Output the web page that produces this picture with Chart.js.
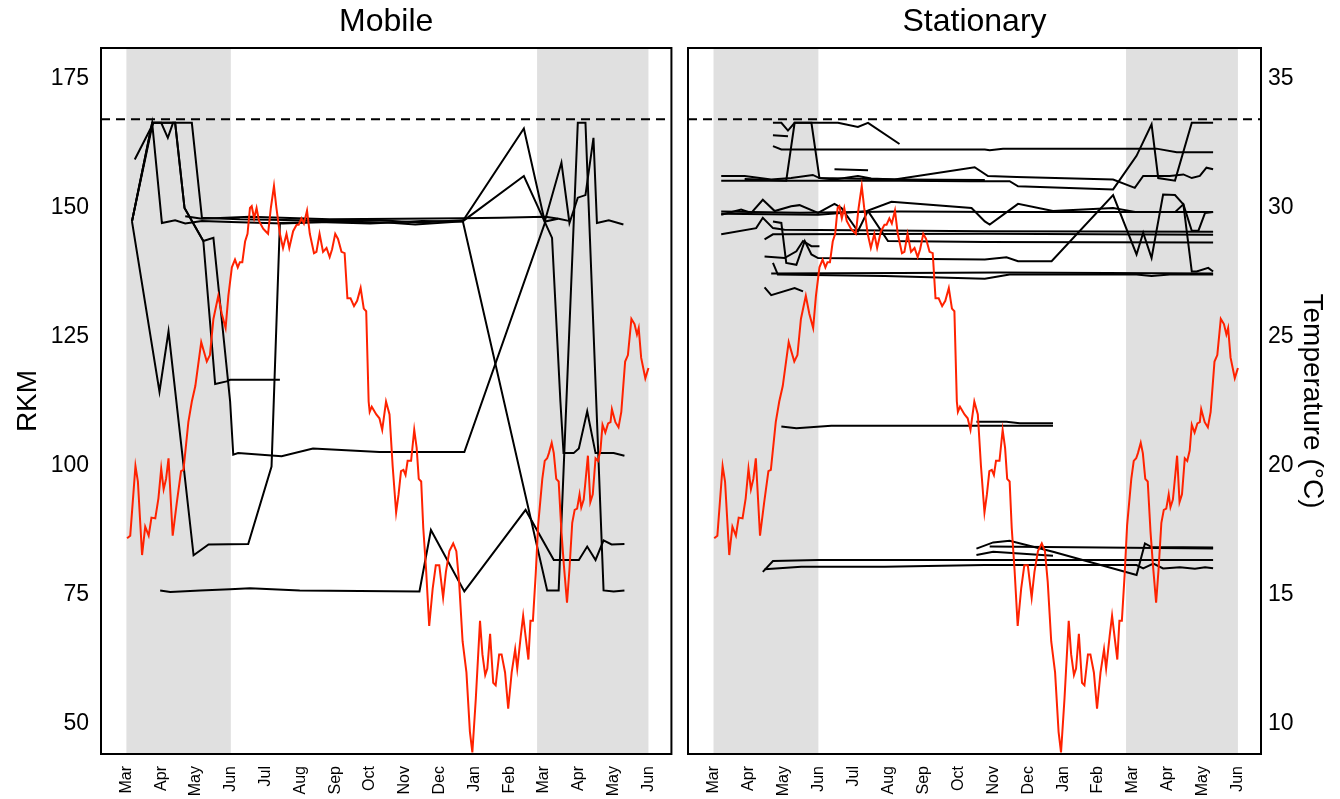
<!DOCTYPE html>
<html>
<head>
<meta charset="utf-8">
<script src="https://cdn.jsdelivr.net/npm/chart.js@4.4.1/dist/chart.umd.min.js"></script>
<style>
  html, body { margin: 0; padding: 0; background: #fff; }
  #wrap { position: relative; width: 1340px; height: 799px; }
  #cMobile { position: absolute; left: 0; top: 0; }
  #cStat { position: absolute; left: 680px; top: 0; }
</style>
</head>
<body>
<div id="wrap">
  <canvas id="cMobile" width="680" height="799"></canvas>
  <canvas id="cStat" width="660" height="799"></canvas>
</div>
<script>
// Movimentos (RKM) e temperatura — Mobile vs Stationary
// x = meses desde 1 de março (0 = Mar, 15 = Jun do ano seguinte)

const monthLabels = ['Mar','Apr','May','Jun','Jul','Aug','Sep','Oct','Nov','Dec','Jan','Feb','Mar','Apr','May','Jun'];
const monthPos = [0,1,2,3,4,5,6,7,8,9,10,11,12,13,14,15];
const rkmTicks = [50,75,100,125,150,175];
const tempTicks = [10,15,20,25,30,35];
const shadeStart = [0, 11.8];
const shadeEnd = [3, 15];
const damRkm = 167.2;

// Temperatura da água (°C)
const tempMonth = [0.02,0.11,0.26,0.33,0.45,0.54,0.64,0.72,0.83,0.92,
  1.00,1.07,1.14,1.21,1.33,1.45,1.57,1.64,1.78,1.88,
  1.98,2.15,2.31,2.40,2.50,2.64,2.74,2.85,2.93,3.03,
  3.12,3.20,3.26,3.33,3.41,3.48,3.55,3.60,3.67,3.74,
  3.81,3.93,4.00,4.07,4.15,4.24,4.31,4.41,4.50,4.60,
  4.68,4.79,4.89,4.95,5.03,5.10,5.19,5.27,5.39,5.46,
  5.55,5.65,5.75,5.84,5.91,6.00,6.08,6.18,6.27,6.35,
  6.44,6.54,6.63,6.73,6.82,6.89,6.96,6.99,7.05,7.18,
  7.27,7.35,7.46,7.56,7.65,7.75,7.82,7.89,7.96,8.02,
  8.08,8.18,8.27,8.34,8.40,8.47,8.53,8.61,8.70,8.80,
  8.89,8.99,9.10,9.18,9.28,9.39,9.48,9.56,9.66,9.77,
  9.87,9.94,10.04,10.16,10.23,10.31,10.37,10.45,10.54,10.61,
  10.71,10.78,10.88,10.97,11.07,11.17,11.23,11.33,11.40,11.47,
  11.55,11.61,11.68,11.76,11.83,11.95,12.02,12.09,12.14,12.22,
  12.28,12.35,12.42,12.50,12.57,12.66,12.73,12.81,12.88,12.95,
  13.02,13.07,13.14,13.19,13.26,13.33,13.40,13.48,13.55,13.62,
  13.68,13.76,13.84,13.91,13.95,14.05,14.14,14.22,14.33,14.41,
  14.51,14.60,14.67,14.72,14.79,14.91,15.00];
const tempC = [17.2,17.3,20.0,19.4,16.55,17.65,17.3,18.0,17.97,18.75,
  19.9,19.1,19.5,20.3,17.3,18.6,19.8,19.85,21.7,22.5,
  23.1,24.8,24.05,24.3,25.7,26.6,25.9,25.35,26.6,27.7,
  28.0,27.7,27.9,27.9,28.7,29.0,30.0,30.07,29.6,30.0,
  29.5,29.2,29.1,29.0,30.0,30.85,30.0,29.0,28.45,29.0,
  28.45,29.1,29.35,29.35,29.6,29.4,29.9,29.0,28.25,28.3,
  29.0,28.3,28.45,28.1,28.4,29.0,28.8,28.3,28.25,26.5,
  26.5,26.2,26.4,26.9,26.1,26.0,22.5,22.1,22.3,22.0,
  21.85,21.4,22.5,22.0,20.0,18.2,18.9,19.8,19.85,19.65,
  20.2,20.2,21.4,20.7,19.5,19.4,17.6,16.0,13.8,15.25,
  16.15,16.15,14.9,15.9,16.7,17.0,16.7,15.5,13.2,12.0,
  9.7,8.9,11.0,14.0,12.7,11.9,12.15,13.5,11.6,11.5,
  12.7,12.7,12.0,10.6,12.0,12.9,12.15,13.4,14.2,13.4,
  12.5,14.0,14.0,15.8,17.7,19.5,20.2,20.3,20.5,20.9,
  20.5,19.5,19.4,17.45,16.15,14.7,16.0,17.8,18.3,18.35,
  18.9,18.4,18.7,19.4,20.4,18.6,18.9,20.3,20.2,20.6,
  21.6,21.3,21.65,21.7,22.2,21.7,21.5,22.1,24.05,24.3,
  25.7,25.5,25.1,25.35,24.2,23.4,23.8];

// Peixes móveis: [mês, RKM]
const mob1 = [[0.24,159.4],[0.78,166.5],[1.88,166.5],[2.17,148.1],[3.26,147.8],[4.98,147.6],[7.27,147.6],[8.42,147.2],[9.66,147.6],[12.09,75.9],[12.42,75.9],[12.97,166.5],[13.19,166.5],[13.71,75.9],[14.0,75.7],[14.31,75.9]];
const mob2 = [[0.16,147.4],[0.74,166.5],[1.02,147.1],[1.40,147.6],[1.69,147.0],[2.17,147.5],[3.0,147.3],[4.5,147.0],[6.0,147.4],[7.5,147.2],[8.3,146.8],[9.66,147.4],[11.42,165.4],[12.02,147.4],[12.50,158.8],[12.73,147.1],[12.97,152.0],[13.19,152.5],[13.42,163.6],[13.52,147.1],[13.86,147.6],[14.28,146.8]];
const mob3 = [[0.16,147.4],[0.95,114.4],[1.21,126.1],[1.93,82.7],[2.36,84.8],[3.50,84.9],[4.17,99.9],[4.41,147.1],[5.5,147.3],[7.0,147.0],[8.5,147.5],[9.66,147.4],[11.42,156.2],[12.23,144.2],[12.47,112.5],[12.56,102.5],[12.85,102.5],[13.0,103.4],[13.24,110.6],[13.48,102.5],[14.0,102.5],[14.31,102.0]];
const mob4 = [[0.16,147.4],[0.74,166.5],[1.0,166.5],[1.19,163.6],[1.34,166.5],[1.40,166.5],[1.67,150.0],[2.21,143.6],[2.55,115.9],[2.88,116.4],[2.98,116.7],[4.41,116.7]];
const mob5 = [[0.16,147.4],[0.76,166.5],[1.40,166.5],[1.67,150.0],[2.21,143.6],[2.50,144.2],[2.98,112.5],[3.07,102.2],[3.21,102.5],[4.46,101.9],[5.36,103.4],[7.27,102.7],[9.71,102.7],[12.04,147.4],[12.4,147.9]];
const mob6 = [[0.97,75.9],[1.26,75.6],[2.12,75.9],[2.98,76.1],[3.55,76.3],[4.98,75.9],[8.42,75.7],[8.75,87.6],[9.71,75.7],[11.47,91.5],[12.28,81.8],[13.0,81.8],[13.24,84.4],[13.48,81.8],[13.71,85.6],[13.94,84.8],[14.31,84.9]];
const mob7 = [[1.69,148.4],[2.17,147.9],[3.55,148.3],[5.84,147.8],[7.84,147.9],[9.66,148.0],[10.71,148.1],[12.04,148.3],[12.42,147.9],[12.71,147.5]];

// Peixes estacionários: [mês, RKM]
const stA = [[1.70,166.5],[1.94,166.5],[2.13,165.0],[2.32,166.5],[2.80,166.5],[3.56,166.5],[4.13,165.7],[4.42,166.5],[5.32,162.4]];
const stB = [[1.70,164.1],[2.13,163.9]];
const stC = [[1.70,162.0],[1.94,161.35],[2.99,161.35],[7.76,161.35],[7.90,161.2],[8.28,161.5],[12.10,161.5],[12.67,161.5],[13.25,160.8],[14.29,160.8]];
const stD = [[3.46,157.5],[4.42,157.3]];
const stE = [[0.89,155.6],[2.08,155.3],[2.32,166.5],[2.80,166.5],[3.03,155.8],[5.32,155.5],[7.76,155.4]];
const stF = [[0.22,156.2],[0.89,156.2],[1.65,155.5],[2.22,155.8],[2.84,156.4],[3.03,155.8],[3.46,155.5],[4.13,156.2],[4.51,155.7],[5.18,155.5],[7.47,157.9],[7.85,156.2],[8.67,156.0],[11.43,155.5],[12.05,153.9],[12.29,156.2],[13.05,156.2],[13.44,156.5],[13.68,155.8],[13.91,156.2],[14.10,157.8],[14.29,157.5]];
const stG = [[0.22,155.3],[5.32,155.3],[7.33,155.2],[8.47,155.2],[8.71,154.2],[11.43,153.6],[12.10,160.1],[12.53,166.2],[12.72,155.8],[13.20,155.3],[13.68,166.5],[14.29,166.5]];
const stH = [[0.22,148.7],[0.79,149.7],[1.08,149.05],[1.41,151.6],[1.75,149.4],[2.22,150.35],[2.46,150.55],[2.99,149.05],[3.46,150.8],[3.66,150.0],[4.13,145.5],[4.42,149.5],[5.09,151.2],[7.38,150.0],[7.76,147.4],[7.90,146.8],[8.71,150.8],[9.71,149.4],[11.43,150.0],[12.10,149.2],[14.29,149.2]];
const stI = [[0.22,149.3],[2.46,149.1],[5.32,149.3],[8.19,149.2],[13.20,149.2],[13.44,150.7],[13.68,145.6],[13.87,145.6],[14.06,149.05],[14.29,149.2]];
const stJ = [[0.22,148.9],[2.99,148.7],[4.42,149.4],[4.99,143.6],[7.76,143.4],[14.29,143.3]];
const stK = [[0.22,144.9],[1.22,146.1],[1.41,148.1],[1.70,146.1],[2.03,145.8],[7.76,145.5],[14.29,145.4]];
const stL = [[1.46,143.9],[1.70,144.9],[7.76,145.0],[14.29,144.8]];
const stM = [[1.70,147.4],[1.94,147.1],[2.08,139.35],[2.37,139.0],[2.61,143.6],[2.80,141.0],[2.99,140.3],[7.76,140.0],[8.38,140.45],[8.71,139.7],[9.67,139.7],[11.43,152.5],[12.10,141.0],[12.29,145.2],[12.53,140.3],[12.86,152.6],[13.20,152.5],[13.44,150.7],[13.68,137.7],[13.82,137.7],[14.15,138.4],[14.29,137.7]];
const stN = [[1.46,140.6],[2.03,140.3],[2.37,141.6],[2.56,143.6],[2.80,142.6],[3.03,142.6]];
const stO = [[1.70,139.35],[1.84,137.1],[4.90,136.8],[7.76,136.3],[8.47,137.1],[12.10,137.1],[12.53,136.8],[13.05,137.1],[14.29,137.1]];
const stP = [[1.65,137.3],[5.32,137.4],[8.19,137.5],[14.29,137.3]];
const stQ = [[1.46,134.6],[1.65,133.1],[2.32,134.5],[2.56,133.85]];
const stR = [[1.94,107.65],[2.37,107.3],[3.37,107.8],[8.38,107.8],[9.71,107.8]];
const stS = [[7.52,108.6],[8.38,108.6],[8.76,108.3],[9.71,108.3]];
const stT = [[1.41,79.5],[1.70,81.6],[2.99,81.8],[7.76,81.8],[14.29,81.8]];
const stU = [[1.46,80.0],[2.51,80.5],[4.90,80.5],[7.76,80.8],[12.10,80.8],[12.29,80.15],[12.58,81.1],[12.86,80.15],[13.34,80.4],[13.77,80.1],[14.06,80.4],[14.29,80.2]];
const stV = [[7.52,84.0],[8.0,85.2],[8.47,85.5],[9.71,83.4],[12.10,78.9],[12.34,85.0],[12.53,84.3],[14.29,84.2]];
const stW = [[7.52,82.75],[8.0,83.4],[9.71,82.6]];
const stX = [[7.90,84.4],[14.29,84.0]];

const mobileTracks = [mob1, mob2, mob3, mob4, mob5, mob6, mob7];
const stationaryTracks = [stA, stB, stC, stD, stE, stF, stG, stH, stI, stJ, stK, stL, stM, stN, stO, stP, stQ, stR, stS, stT, stU, stV, stW, stX];

// Escalas alinhadas: 50 RKM = 10 °C, 175 RKM = 35 °C
const X_MIN = -0.73, X_MAX = 15.66;
const RKM_MIN = 44.2, RKM_MAX = 181.0;
const T_MIN = 10 + (RKM_MIN - 50) / 5, T_MAX = 10 + (RKM_MAX - 50) / 5;
const FONT = "'Liberation Sans', Arial, Helvetica, sans-serif";

const panelDecor = {
  id: 'panelDecor',
  beforeDatasetsDraw(chart) {
    const { ctx, chartArea: a, scales } = chart;
    const x = scales.x, y = scales.y;
    ctx.save();
    ctx.fillStyle = '#e0e0e0';
    shadeStart.forEach((s, i) => {
      const x0 = x.getPixelForValue(s), x1 = x.getPixelForValue(shadeEnd[i]);
      ctx.fillRect(x0, a.top, x1 - x0, a.bottom - a.top);
    });
    const yd = y.getPixelForValue(damRkm);
    ctx.strokeStyle = '#000';
    ctx.lineWidth = 2;
    ctx.setLineDash([9, 6]);
    ctx.beginPath();
    ctx.moveTo(a.left, yd);
    ctx.lineTo(a.right, yd);
    ctx.stroke();
    ctx.restore();
  },
  afterDraw(chart) {
    const { ctx, chartArea: a } = chart;
    ctx.save();
    ctx.strokeStyle = '#000';
    ctx.lineWidth = 2;
    ctx.strokeRect(a.left, a.top, a.right - a.left, a.bottom - a.top);
    ctx.restore();
  }
};

function buildChart(canvasId, title, tracks, isRight) {
  const datasets = [{
    data: tempMonth.map((m, i) => ({ x: m, y: tempC[i] })),
    yAxisID: 'yT', borderColor: '#ff2200', borderWidth: 2, pointRadius: 0, tension: 0
  }];
  tracks.forEach(t => datasets.push({
    data: t.map(p => ({ x: p[0], y: p[1] })),
    yAxisID: 'y', borderColor: '#000', borderWidth: 2, pointRadius: 0, tension: 0
  }));

  return new Chart(document.getElementById(canvasId), {
    type: 'line',
    data: { datasets },
    options: {
      responsive: false,
      animation: false,
      layout: { padding: isRight ? { left: 8 } : { right: 7 } },
      plugins: { legend: { display: false }, tooltip: { enabled: false } },
      scales: {
        x: {
          type: 'linear', min: X_MIN, max: X_MAX,
          grid: { display: false, drawTicks: false }, border: { display: false },
          afterBuildTicks: s => { s.ticks = monthPos.map(v => ({ value: v })); },
          ticks: {
            autoSkip: false, minRotation: 90, maxRotation: 90, padding: 12, color: '#000',
            font: { family: FONT, size: 16 },
            callback: v => monthLabels[Math.round(v)]
          },
          afterFit: s => { s.height = 45; }
        },
        xTop: {
          type: 'linear', position: 'top', min: X_MIN, max: X_MAX,
          grid: { display: false, drawTicks: false }, border: { display: false },
          ticks: { display: false },
          title: { display: true, text: title, color: '#000', font: { family: FONT, size: 32 }, padding: { top: 3, bottom: 0 } },
          afterFit: s => { s.height = 48; }
        },
        y: {
          position: 'left', display: !isRight, min: RKM_MIN, max: RKM_MAX,
          grid: { display: false, drawTicks: false }, border: { display: false },
          afterBuildTicks: s => { s.ticks = rkmTicks.map(v => ({ value: v })); },
          ticks: { padding: 12, color: '#000', font: { family: FONT, size: 23 } },
          title: { display: true, text: 'RKM', color: '#000', font: { family: FONT, size: 28 }, padding: { top: 11, bottom: 0 } },
          afterFit: s => { s.width = isRight ? 0 : 101; }
        },
        yT: {
          position: 'right', display: isRight, min: T_MIN, max: T_MAX,
          grid: { display: false, drawTicks: false }, border: { display: false },
          afterBuildTicks: s => { s.ticks = tempTicks.map(v => ({ value: v })); },
          ticks: { padding: 7, color: '#000', font: { family: FONT, size: 23 } },
          title: { display: true, text: 'Temperature (°C)', color: '#000', font: { family: FONT, size: 28 }, padding: { top: 11, bottom: 0 } },
          afterFit: s => { s.width = isRight ? 79 : 0; }
        }
      }
    },
    plugins: [panelDecor]
  });
}

buildChart('cMobile', 'Mobile', mobileTracks, false);
buildChart('cStat', 'Stationary', stationaryTracks, true);
</script>
</body>
</html>
